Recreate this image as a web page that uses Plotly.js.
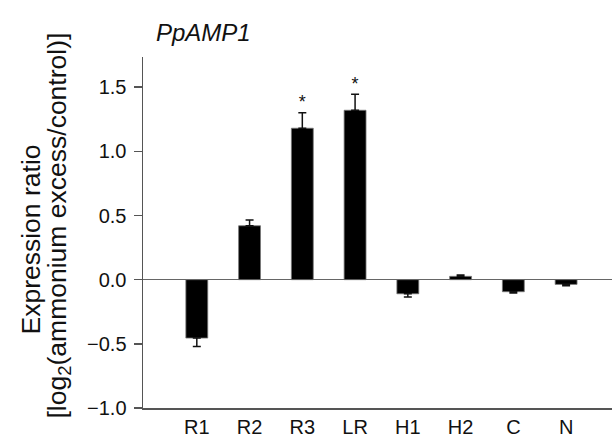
<!DOCTYPE html>
<html>
<head>
<meta charset="utf-8">
<script src="https://cdn.plot.ly/plotly-3.0.1.min.js"></script>
<style>html,body{margin:0;padding:0;background:#fff;}#chart{width:612px;height:437px;}</style>
</head>
<body>
<div id="chart"></div>
<script>
const categories = ["R1", "R2", "R3", "LR", "H1", "H2", "C", "N"];
const values = [-0.455, 0.42, 1.18, 1.32, -0.11, 0.026, -0.094, -0.037];
const errors = [0.065, 0.045, 0.12, 0.125, 0.025, 0.01, 0.01, 0.01];
const significant = [false, false, true, true, false, false, false, false];
const yTicks = [-1.0, -0.5, 0.0, 0.5, 1.0, 1.5];
const yTitleLines = ["Expression ratio", "[log<sub>2</sub>(ammonium excess/control)]"];

const upErr = values.map((v, i) => v >= 0 ? errors[i] : 0);
const downErr = values.map((v, i) => v < 0 ? errors[i] : 0);

const sigX = categories.filter((c, i) => significant[i]);
const sigY = values.map((v, i) => v + errors[i]).filter((v, i) => significant[i]);

const font = "Liberation Sans, Arial, sans-serif";

const traces = [
  {
    type: "bar",
    x: categories,
    y: values,
    width: 0.415,
    marker: {color: "#000", line: {color: "#777", width: 0.8}},
    error_y: {type: "data", symmetric: false, array: upErr, arrayminus: downErr,
              color: "#111", thickness: 1.5, width: 4},
    hoverinfo: "x+y",
    showlegend: false
  },
  {
    type: "scatter",
    mode: "text",
    x: sigX,
    y: sigY,
    text: sigX.map(() => "*"),
    textposition: "top center",
    textfont: {family: font, size: 18, color: "#111"},
    showlegend: false,
    hoverinfo: "skip"
  }
];

const layout = {
  width: 612,
  height: 437,
  margin: {l: 143, r: 0, t: 57, b: 29},
  paper_bgcolor: "#fff",
  plot_bgcolor: "#fff",
  font: {family: font, color: "#111"},
  title: {
    text: "<i>PpAMP1</i>",
    font: {family: font, size: 24, color: "#111"},
    x: 156 / 612, xref: "container", xanchor: "left",
    y: 1 - 33 / 437, yref: "container", yanchor: "middle"
  },
  xaxis: {
    type: "category",
    range: [-1.02, 7.87],
    showline: true,
    linecolor: "#555",
    linewidth: 1.5,
    ticks: "",
    showgrid: false,
    zeroline: false,
    tickfont: {family: font, size: 20, color: "#111"},
    fixedrange: true
  },
  yaxis: {
    range: [-1.0, 1.735],
    tickvals: yTicks,
    tickformat: ".1f",
    ticks: "outside",
    ticklen: 8,
    tickwidth: 1.5,
    tickcolor: "#555",
    ticklabelstandoff: 3,
    showline: true,
    linecolor: "#555",
    linewidth: 1.5,
    showgrid: false,
    zeroline: true,
    zerolinecolor: "#666",
    zerolinewidth: 1.5,
    tickfont: {family: font, size: 20, color: "#111"},
    fixedrange: true
  },
  annotations: [
    {
      text: yTitleLines[0], textangle: -90,
      xref: "paper", yref: "paper", x: 0, y: 0.5,
      xanchor: "center", yanchor: "middle", xshift: -143 + 30, yshift: -7,
      showarrow: false,
      font: {family: font, size: 26.5, color: "#111"}
    },
    {
      text: yTitleLines[1], textangle: -90,
      xref: "paper", yref: "paper", x: 0, y: 0.5,
      xanchor: "center", yanchor: "middle", xshift: -143 + 58, yshift: 7,
      showarrow: false,
      font: {family: font, size: 26.5, color: "#111"}
    }
  ],
  bargap: 0.5
};

Plotly.newPlot("chart", traces, layout, {displayModeBar: false, staticPlot: true});
</script>
</body>
</html>
